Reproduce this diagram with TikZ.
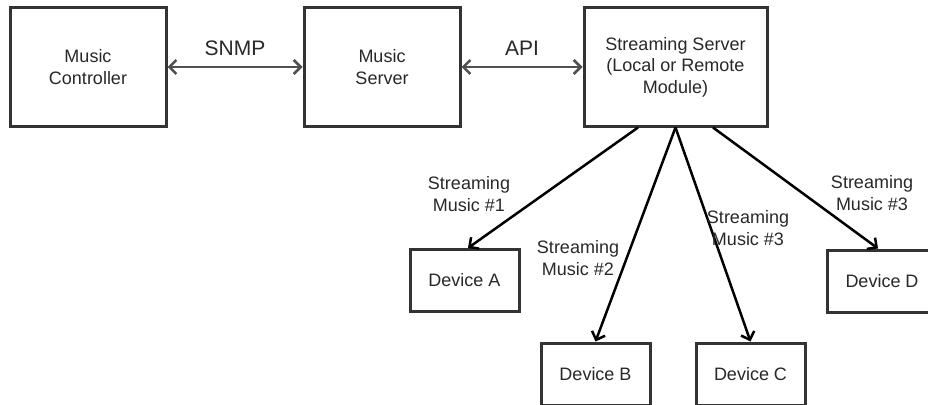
\documentclass[tikz,border=0pt]{standalone}
\usepackage{fontspec}
\setmainfont{Liberation Sans}
\usetikzlibrary{arrows.meta,calc}
\definecolor{boxline}{RGB}{51,51,51}
\definecolor{txt}{RGB}{40,40,40}
\definecolor{toparrow}{RGB}{80,80,80}
\begin{document}
\begin{tikzpicture}[x=1pt,y=-1pt,
  box/.style={draw=boxline,line width=3pt,fill=white,text=txt,align=center,
    font=\fontsize{18}{21.5}\selectfont,inner sep=0pt},
  bigbox/.style={box,minimum height=118pt},
  devbox/.style={box,minimum width=109pt,minimum height=62pt},
  tip/.style={-{Straight Barb[length=7pt,width=14pt,line width=2.5pt]}},
  dbl/.style={{Straight Barb[length=7pt,width=14pt,line width=2.5pt]}-{Straight Barb[length=7pt,width=14pt,line width=2.5pt]}},
  hlink/.style={draw=toparrow,line width=2.5pt,dbl},
  slink/.style={draw=black,line width=2.5pt,tip},
  lbl/.style={text=txt,align=center,font=\fontsize{18}{21.5}\selectfont,inner sep=0pt},
  biglbl/.style={text=txt,font=\fontsize{21}{24}\selectfont,inner sep=0pt}]
\clip (0,0) rectangle (928,404);
\useasboundingbox (0,0) rectangle (928,404);
\node[bigbox,minimum width=156pt] (mc) at (88,67) {Music\\Controller};
\node[bigbox,minimum width=156pt] (ms) at (382,67) {Music\\Server};
\node[bigbox,minimum width=183pt] (ss) at (675.5,67) {Streaming Server\\(Local or Remote\\Module)};
\node[devbox] (da) at (464.5,280.5) {Device A};
\node[devbox] (db) at (595.5,374) {Device B};
\node[devbox] (dc) at (750.5,374) {Device C};
\node[devbox] (dd) at (882,281) {Device D};
\draw[hlink] (mc) -- node[biglbl,above=10pt]{SNMP} (ms);
\draw[hlink] (ms) -- node[biglbl,above=10pt]{API} (ss);
\coordinate (s1) at ([xshift=-37.5pt]ss.south);
\coordinate (s4) at ([xshift=37.5pt]ss.south);
\coordinate (ea) at ([xshift=3.5pt]da.north);
\coordinate (ed) at ([xshift=-4pt]dd.north);
\draw[slink] (s1) -- (ea);
\draw[slink] (ss.south) -- (db.north);
\draw[slink] (ss.south) -- (dc.north);
\draw[slink] (s4) -- (ed);
\node[lbl] (l1) at (469,194) {Streaming\\Music \#1};
\node[lbl] (l2) at (578,258) {Streaming\\Music \#2};
\node[lbl] (l3) at (748,228) {Streaming\\Music \#3};
\node[lbl] (l4) at (872,193) {Streaming\\Music \#3};
\end{tikzpicture}
\end{document}
